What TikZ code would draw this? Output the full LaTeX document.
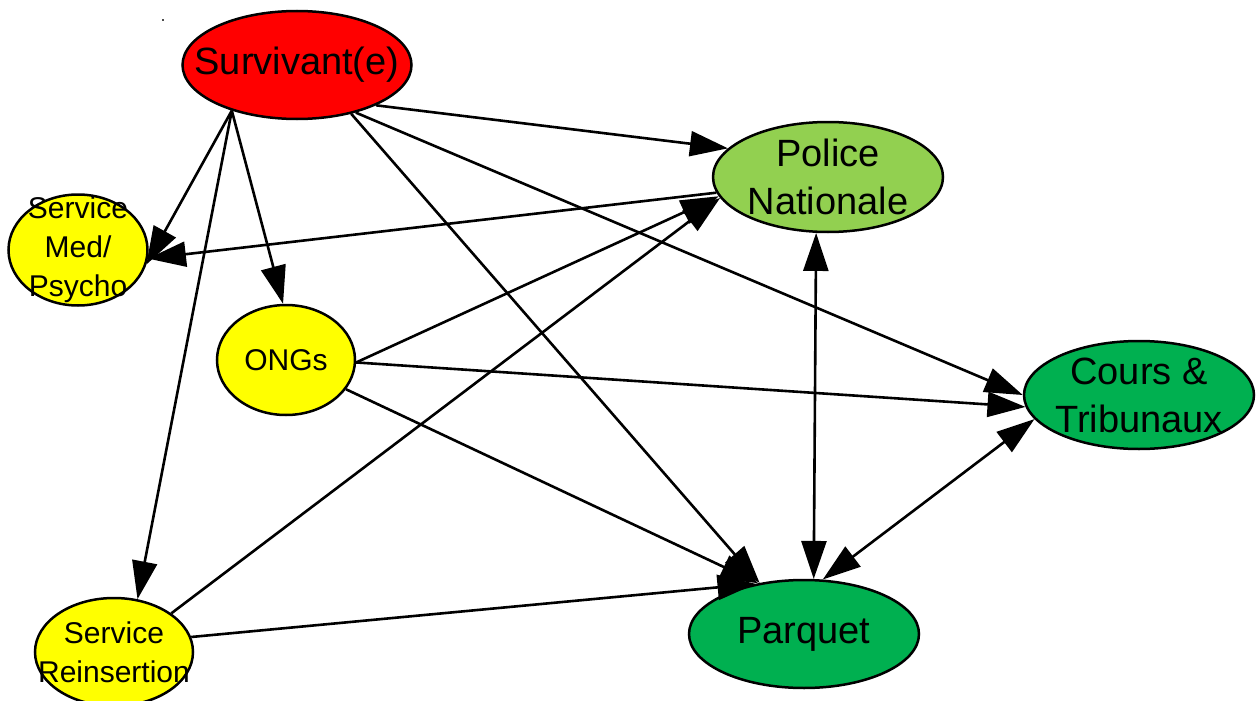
\documentclass[tikz,border=0pt]{standalone}
\usepackage{fontspec}
\setmainfont{Liberation Sans}
\usetikzlibrary{arrows.meta,shapes.geometric}
\definecolor{survred}{HTML}{FF0000}
\definecolor{lightgr}{HTML}{92D050}
\definecolor{darkgr}{HTML}{00B050}
\definecolor{yel}{HTML}{FFFF00}
\begin{document}
\begin{tikzpicture}[x=1pt,y=-1pt,
  ell/.style={ellipse, draw=black, line width=2.5pt, inner sep=0pt},
  big/.style={font=\fontsize{38}{48}\selectfont, align=center, inner sep=0pt},
  small/.style={font=\fontsize{30}{39}\selectfont, align=center, inner sep=0pt},
  conn/.style={line width=2.6pt, -{Triangle[length=38pt,width=25pt]}},
  dconn/.style={line width=2.6pt, {Triangle[length=38pt,width=25pt]}-{Triangle[length=38pt,width=25pt]}}]
\useasboundingbox (0,0) rectangle (1259,701);
\fill[black!70] (162,19) rectangle (164,21);

\node[ell, fill=survred, minimum width=229pt, minimum height=108pt,
  label={[big]center:Survivant(e)}] (surv) at (297,65) {};
\node[ell, fill=lightgr, minimum width=230pt, minimum height=110pt,
  label={[big]center:{Police\\Nationale}}] (police) at (828,177) {};
\node[ell, fill=yel, minimum width=139pt, minimum height=111pt,
  label={[small]center:{Service\\Med/\\Psycho}}] (med) at (78,250) {};
\node[ell, fill=yel, minimum width=138pt, minimum height=110pt,
  label={[small]center:ONGs}] (ongs) at (286,360) {};
\node[ell, fill=darkgr, minimum width=230pt, minimum height=108pt,
  label={[big]center:{Cours \&\\Tribunaux}}] (cours) at (1139,395) {};
\node[ell, fill=yel, minimum width=158pt, minimum height=108pt,
  label={[small]center:{Service\\Reinsertion}}] (rein) at (114,652) {};
\node[ell, fill=darkgr, minimum width=230pt, minimum height=108pt,
  label={[big]center:Parquet}] (parq) at (804,634) {};

\draw[conn] (surv.-27) -- (police.164);
\draw[conn] (surv.215) -- (med.-12);
\draw[conn] (surv.215) -- (ongs.93);
\draw[conn] (surv.215) -- (rein.66);
\draw[conn] (surv.-42) -- (parq.131);
\draw[conn] (surv.-39) -- (cours.180);
\draw[conn] (police.188) -- (med.-7);
\draw[conn] (ongs.-2) -- (police.190);
\draw[conn] (ongs.-2) -- (cours.186);
\draw[conn] (ongs.-26) -- (parq.132);
\draw[conn] (rein.34) -- (police.191);
\draw[conn] (rein.11) -- (parq.134);
\draw[dconn] (police.258) -- (parq.80);
\draw[dconn] (parq.71) -- (cours.193);
\end{tikzpicture}
\end{document}
